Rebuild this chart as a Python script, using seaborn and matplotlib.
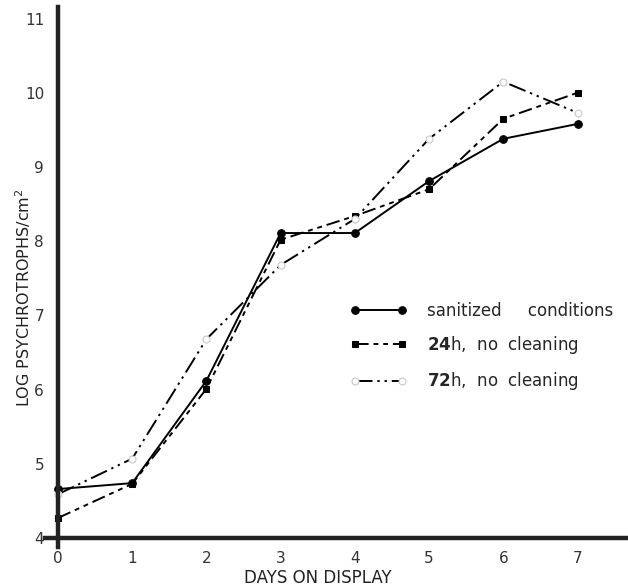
import matplotlib
matplotlib.use("Agg")
import matplotlib.pyplot as plt
import seaborn as sns
import pandas as pd

# ---- data ----
days = [0, 1, 2, 3, 4, 5, 6, 7]
sanitized = [4.66, 4.74, 6.12, 8.11, 8.11, 8.81, 9.38, 9.58]
h24 = [4.27, 4.73, 6.01, 8.02, 8.34, 8.70, 9.65, 10.00]
h72 = [4.59, 5.07, 6.68, 7.68, 8.30, 9.38, 10.15, 9.73]
series_labels = ["sanitized     conditions",
                 r"$\mathbf{24}$h,  no  cleaning",
                 r"$\mathbf{72}$h,  no  cleaning"]
xticks = [0, 1, 2, 3, 4, 5, 6, 7]
yticks = [4, 5, 6, 7, 8, 9, 10, 11]

sns.set_style("white")
plt.rcParams["font.family"] = ["DejaVu Sans"]

fig = plt.figure(figsize=(6.28, 5.87), dpi=100)
ax = fig.add_axes([45 / 628, 40 / 587, 583 / 628, 540 / 587])

styles = [
    dict(linestyle="-", marker="o", markersize=5.5, mfc="black", mec="black"),
    dict(linestyle=(0, (7, 2.5, 2.5, 2.5, 2.5, 2.5)), marker="s", markersize=4.5,
         mfc="black", mec="black"),
    dict(linestyle=(0, (9, 2.5, 1.2, 2.5, 1.2, 2.5)), marker="o", markersize=5,
         mfc="white", mec="#c8c8c8", mew=0.8),
]
handles = []
for vals, st in zip([sanitized, h24, h72], styles):
    df = pd.DataFrame({"day": days, "value": vals})
    sns.lineplot(data=df, x="day", y="value", ax=ax, color="black",
                 linewidth=1.4, legend=False, **st)
    handles.append(ax.get_lines()[-1])

ax.set_xlim(-0.175, 7.68)
ax.set_ylim(3.879, 11.156)
ax.set_xticks(xticks)
ax.set_yticks(yticks)

for s in ["top", "right"]:
    ax.spines[s].set_visible(False)
ax.spines["left"].set_position(("data", 0))
ax.spines["bottom"].set_position(("data", 4))
for s in ["left", "bottom"]:
    ax.spines[s].set_linewidth(3.2)
    ax.spines[s].set_color("#222222")

ax.tick_params(axis="x", direction="in", length=5, width=1.2, pad=9,
               labelsize=11, labelcolor="#333333", color="#333333")
ax.tick_params(axis="y", direction="out", length=5, width=1.2, pad=5,
               labelsize=11, labelcolor="#333333", color="#333333")

ax.set_xlabel("DAYS ON DISPLAY", fontsize=12, color="#222222")
ax.xaxis.set_label_coords((318 - 45) / 583, -(569 - 547) / 540)
ax.set_ylabel("LOG PSYCHROTROPHS/cm$^2$", fontsize=11.5, color="#222222",
              va="center")
ax.yaxis.set_label_coords((23 - 45) / 583, (547 - 298) / 540)

ax.legend(handles, series_labels, loc="upper left",
          bbox_to_anchor=(350 / 628, 1 - 302 / 587),
          bbox_transform=fig.transFigure, frameon=False, fontsize=12,
          numpoints=2, handlelength=3.4, handletextpad=1.2,
          labelspacing=0.85, borderpad=0, borderaxespad=0)

fig.savefig("out.png", dpi=100)
